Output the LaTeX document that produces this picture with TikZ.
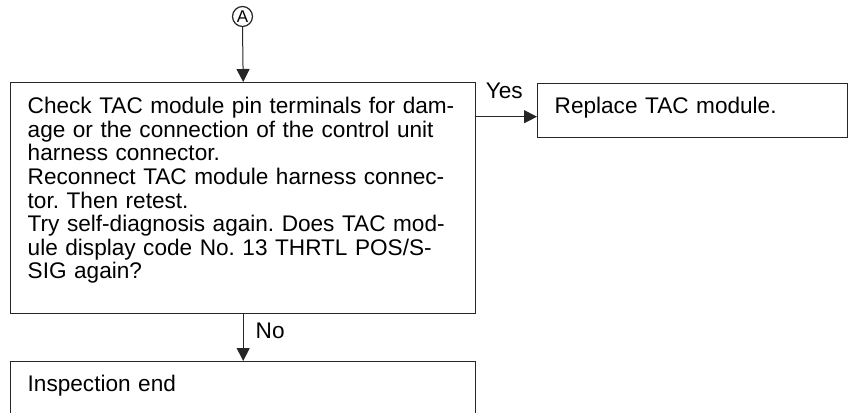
\documentclass[tikz,border=0pt]{standalone}
\usepackage{fontspec}
\setmainfont{Liberation Sans}
\usetikzlibrary{arrows.meta, positioning}
\frenchspacing
\newcommand{\fte}{\fontsize{11.3}{11.8}\selectfont}
\tikzset{
  cx/.style = {draw=black!85, line width=0.7pt, anchor=north west,
    inner ysep=0pt, inner xsep=8.5pt, align=left, font=\fte},
  cxg/.style = {cx, minimum width=232.5pt, text width=215.5pt,
    text height=15.5pt, text depth=100pt},
  cxp/.style = {cx, text height=15pt, text depth=12pt},
  circ/.style = {circle, draw=black!85, line width=0.6pt, minimum size=10pt,
    inner sep=0pt, font=\fontsize{8.5}{8.5}\selectfont},
  rot/.style = {font=\fte, inner sep=0pt, anchor=base west},
  seta/.style = {-{Triangle[length=6.5pt, width=6.5pt]}, line width=0.5pt,
    draw=black!85}
}

\begin{document}
\begin{tikzpicture}[x=0.5pt, y=-0.5pt]
  \useasboundingbox (0,0) rectangle (854,412);
  % entrada
  \node [circ] (a) at (242.5,16.5) {A};
  \node [cxg] (chk) at (10,82) {Check TAC module pin terminals for dam-\\
    age or the connection of the control unit\\ harness connector.\\
    Reconnect TAC module harness connec-\\ tor. Then retest.\\
    Try self-diagnosis again. Does TAC mod-\\ ule display code No. 13
    THRTL POS/S-\\ SIG again?};
  \draw [seta] (a.south) -- (chk.north);

  % sim
  \node [cxp, minimum width=155pt, text width=138pt] (rep) at (537,83) {Replace TAC module.};
  \coordinate (ys) at ([yshift=-3pt]rep.west);
  \draw [seta] (ys -| chk.east) -- (ys) node [rot, pos=0, xshift=4.5pt, yshift=9pt] (yes) {Yes};

  % nao
  \node [cxp, minimum width=232.5pt, text width=215.5pt] (insp) at (10,361) {Inspection end};
  \draw [seta] (chk.south) -- (insp.north) node [rot, pos=0, xshift=6pt, yshift=-12pt] (no) {No};
\end{tikzpicture}
\end{document}
